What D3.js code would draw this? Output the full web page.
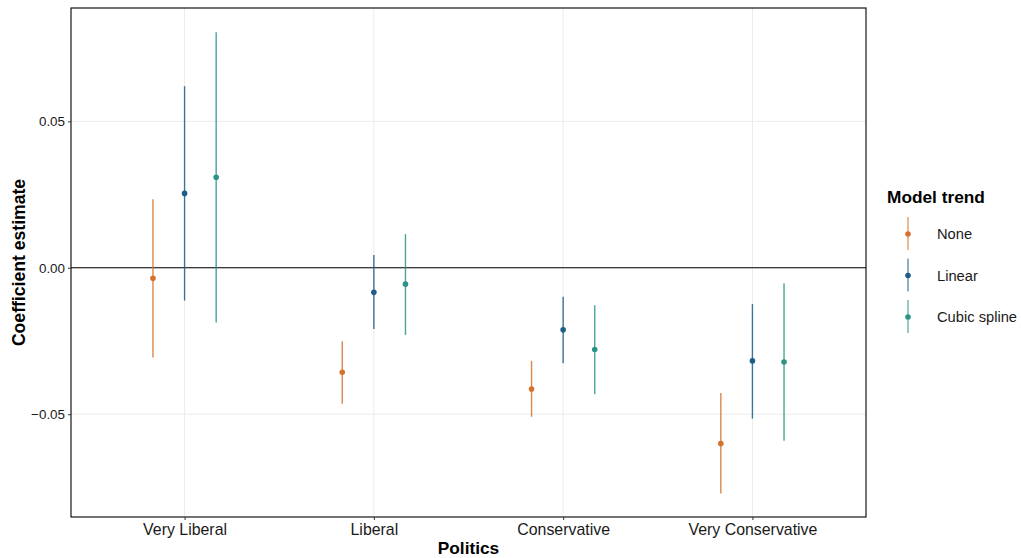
<!DOCTYPE html>
<html>
<head>
<meta charset="utf-8">
<script src="https://cdn.jsdelivr.net/npm/d3@7"></script>
<style>
  body { margin: 0; background: #fff; }
  svg text { font-family: "Liberation Sans", Arial, sans-serif; }
</style>
</head>
<body>
<div id="chart"></div>
<script>
const categories = ["Very Liberal", "Liberal", "Conservative", "Very Conservative"];
const trends = ["None", "Linear", "Cubic spline"];
const trendColors = ["#d4722c", "#1f5c87", "#2a9485"];

// estimate, lower, upper per category (order of categories)
const noneEst   = [-0.0036, -0.0357, -0.0414, -0.0600];
const noneLow   = [-0.0306, -0.0464, -0.0509, -0.0771];
const noneHigh  = [ 0.0234, -0.0251, -0.0318, -0.0428];
const linEst    = [ 0.0254, -0.0084, -0.0212, -0.0318];
const linLow    = [-0.0112, -0.0209, -0.0326, -0.0515];
const linHigh   = [ 0.0620,  0.0044, -0.0099, -0.0124];
const splEst    = [ 0.0309, -0.0056, -0.0279, -0.0322];
const splLow    = [-0.0187, -0.0229, -0.0432, -0.0591];
const splHigh   = [ 0.0804,  0.0115, -0.0128, -0.0053];
const yTicks = [-0.05, 0, 0.05];

const width = 1021, height = 558;
const margin = { top: 8, right: 155, bottom: 41, left: 71 };

const seriesVals = [
    [noneEst, noneLow, noneHigh],
    [linEst, linLow, linHigh],
    [splEst, splLow, splHigh]
];
const data = [];
trends.forEach((t, ti) => {
    categories.forEach((c, ci) => {
        data.push({ trend: t, ti, cat: c,
            est: seriesVals[ti][0][ci], lo: seriesVals[ti][1][ci], hi: seriesVals[ti][2][ci] });
    });
});

const svg = d3.select("#chart").append("svg")
    .attr("width", width)
    .attr("height", height);

const x = d3.scalePoint()
    .domain(categories)
    .range([margin.left, width - margin.right])
    .padding(0.6);

const y = d3.scaleLinear()
    .domain([-0.0851, 0.0887])
    .range([height - margin.bottom, margin.top]);

const dodge = d3.scalePoint()
    .domain(trends)
    .range([-31.6, 31.6]);

// gridlines
svg.append("g").selectAll("line")
    .data(yTicks)
    .enter().append("line")
    .attr("x1", margin.left).attr("x2", width - margin.right)
    .attr("y1", d => y(d)).attr("y2", d => y(d))
    .attr("stroke", "#ebebeb").attr("stroke-width", 1);

svg.append("g").selectAll("line")
    .data(categories)
    .enter().append("line")
    .attr("x1", d => x(d)).attr("x2", d => x(d))
    .attr("y1", margin.top).attr("y2", height - margin.bottom)
    .attr("stroke", "#ebebeb").attr("stroke-width", 1);

// zero line
svg.append("line")
    .attr("x1", margin.left).attr("x2", width - margin.right)
    .attr("y1", y(0)).attr("y2", y(0))
    .attr("stroke", "#000").attr("stroke-width", 1.1);

// error bars
svg.append("g").selectAll("line")
    .data(data)
    .enter().append("line")
    .attr("x1", d => x(d.cat) + dodge(d.trend))
    .attr("x2", d => x(d.cat) + dodge(d.trend))
    .attr("y1", d => y(d.lo))
    .attr("y2", d => y(d.hi))
    .attr("stroke", d => trendColors[d.ti])
    .attr("stroke-opacity", 0.85)
    .attr("stroke-width", 1.4);

svg.append("g").selectAll("circle")
    .data(data)
    .enter().append("circle")
    .attr("cx", d => x(d.cat) + dodge(d.trend))
    .attr("cy", d => y(d.est))
    .attr("r", 2.8)
    .attr("fill", d => trendColors[d.ti]);

// panel border
svg.append("rect")
    .attr("x", margin.left).attr("y", margin.top)
    .attr("width", width - margin.right - margin.left)
    .attr("height", height - margin.bottom - margin.top)
    .attr("fill", "none")
    .attr("stroke", "#000").attr("stroke-width", 1.1);

// axes
const yAxis = svg.append("g")
    .attr("transform", `translate(${margin.left},0)`)
    .call(d3.axisLeft(y).tickValues(yTicks).tickSize(3).tickPadding(3)
        .tickFormat(d => d === 0 ? "0.00" : d3.format(".2f")(d).replace("-", "\u2212")));
yAxis.select(".domain").remove();
yAxis.selectAll("line").attr("stroke", "#333");
yAxis.selectAll("text").attr("font-size", 13.4).attr("fill", "#1a1a1a");

const xAxis = svg.append("g")
    .attr("transform", `translate(0,${height - margin.bottom})`)
    .call(d3.axisBottom(x).tickSize(3).tickPadding(3));
xAxis.select(".domain").remove();
xAxis.selectAll("line").attr("stroke", "#333");
xAxis.selectAll("text").attr("font-size", 15.9).attr("fill", "#1a1a1a").attr("dy", "0.75em");

svg.append("text")
    .attr("x", (margin.left + width - margin.right) / 2)
    .attr("y", 554)
    .attr("text-anchor", "middle")
    .attr("font-size", 17.3).attr("font-weight", "bold")
    .text("Politics");

svg.append("text")
    .attr("transform", `translate(25,${(margin.top + height - margin.bottom) / 2}) rotate(-90)`)
    .attr("text-anchor", "middle")
    .attr("font-size", 17.6).attr("font-weight", "bold")
    .text("Coefficient estimate");

// legend
const legend = svg.append("g").attr("transform", "translate(887,0)");
legend.append("text")
    .attr("x", 0).attr("y", 203)
    .attr("font-size", 17.3).attr("font-weight", "bold")
    .text("Model trend");

const items = legend.selectAll(".item")
    .data(trends)
    .enter().append("g")
    .attr("class", "item")
    .attr("transform", (d, i) => `translate(0,${234 + i * 41.5})`);

items.append("line")
    .attr("x1", 21).attr("x2", 21)
    .attr("y1", -17).attr("y2", 16)
    .attr("stroke", (d, i) => trendColors[i])
    .attr("stroke-opacity", 0.7)
    .attr("stroke-width", 1.4);
items.append("circle")
    .attr("cx", 21).attr("cy", 0).attr("r", 2.8)
    .attr("fill", (d, i) => trendColors[i]);
items.append("text")
    .attr("x", 50).attr("y", 0).attr("dy", "0.35em")
    .attr("font-size", 14.7).attr("fill", "#1a1a1a")
    .text(d => d);
</script>
</body>
</html>
